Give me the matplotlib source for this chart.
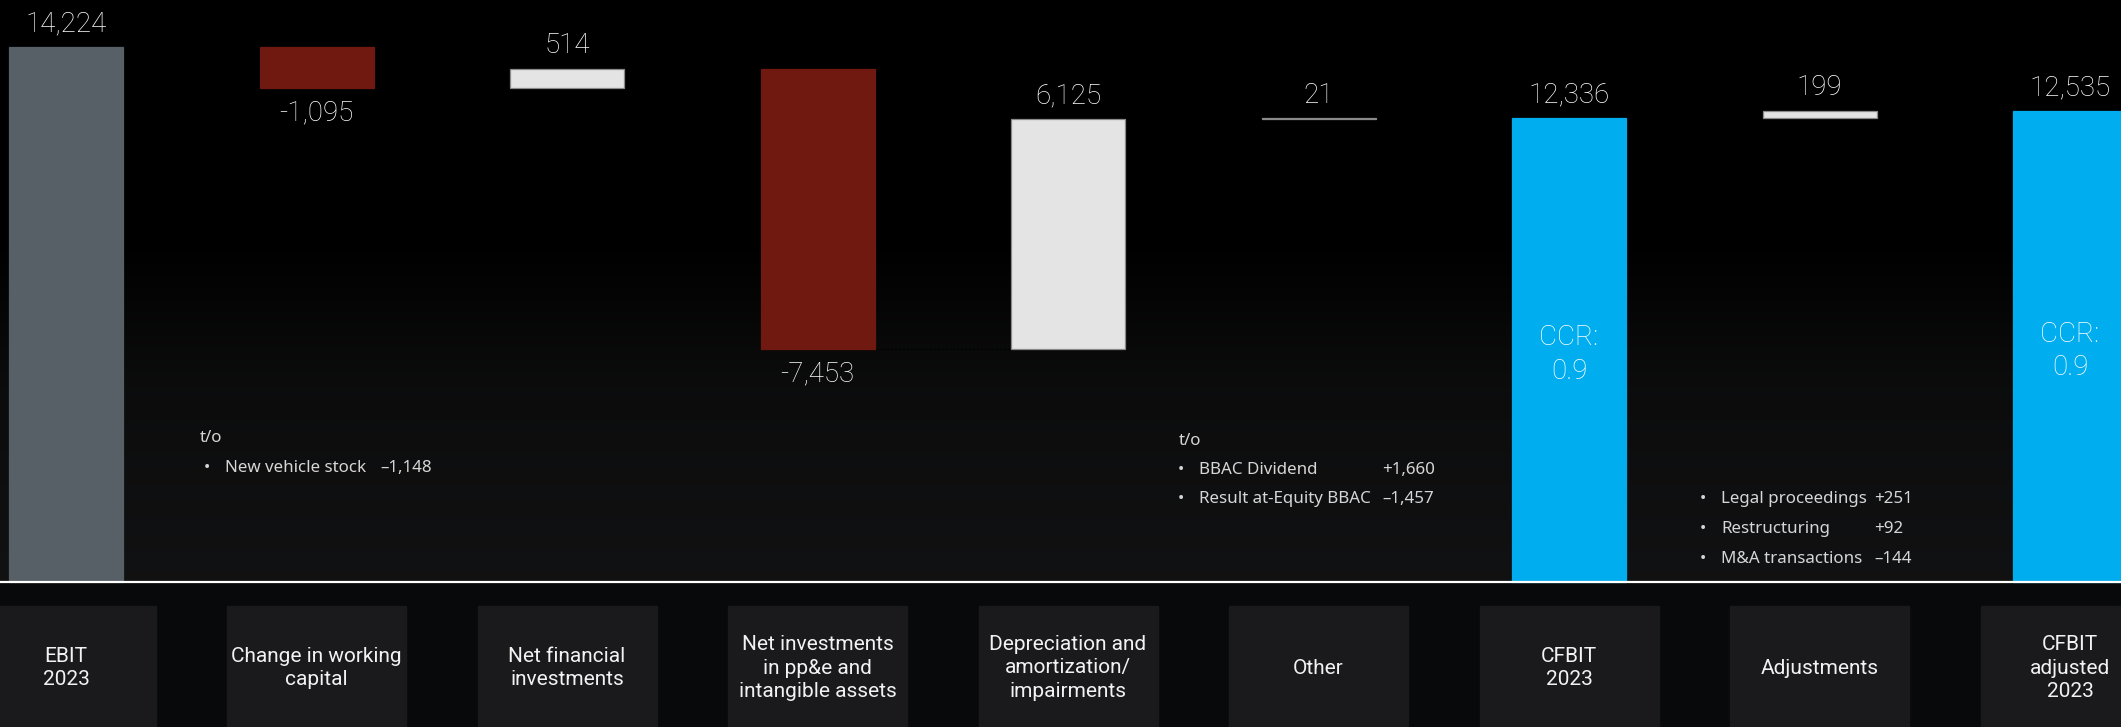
import numpy as np
import matplotlib
matplotlib.use('Agg')
import matplotlib.pyplot as plt
from matplotlib.patches import Rectangle

categories = ['EBIT\n2023', 'Change in working\ncapital', 'Net financial\ninvestments',
              'Net investments\nin pp&e and\nintangible assets',
              'Depreciation and\namortization/\nimpairments', 'Other', 'CFBIT\n2023',
              'Adjustments', 'CFBIT\nadjusted\n2023']
values = [14224, -1095, 514, -7453, 6125, 21, 12336, 199, 12535]
is_total = [True, False, False, False, False, False, True, False, True]
value_labels = ['14,224', '-1,095', '514', '-7,453', '6,125', '21', '12,336', '199', '12,535']
ccr_labels = {6: 'CCR:\n0.9', 8: 'CCR:\n0.9'}

notes_wc = ['New vehicle stock', '\u20131,148']
notes_other = [('BBAC Dividend', '+1,660'), ('Result at-Equity BBAC', '\u20131,457')]
notes_adj = [('Legal proceedings', '+251'), ('Restructuring', '+92'), ('M&A transactions', '\u2013144')]

W, H = 2121, 727
narrow = ['Roboto', 'DejaVu Sans']
plex = ['Noto Sans', 'DejaVu Sans']

fig = plt.figure(figsize=(W / 100, H / 100), dpi=100)
fig.patch.set_facecolor('black')
ax = fig.add_axes([0, 0, 1, 1])
ax.set_axis_off()

# pixel layout: bar centres every 250.5 px starting at 66, baseline at y=582 px
px_per_cat = 250.5
units_per_px = 14224 / 535
x0, x1 = -66 / px_per_cat, (W - 66) / px_per_cat
y0, y1 = -(H - 582) * units_per_px, 582 * units_per_px
ax.set_xlim(x0, x1)
ax.set_ylim(y0, y1)

# background gradient above the baseline
rows = np.arange(H)
g = np.interp(rows, [0, 240, 380, 581, 582, 727], [0.0, 0.0, 0.045, 0.068, 0.035, 0.03])
img = np.dstack([g, g * 1.03, g * 1.1]).reshape(H, 1, 3)
img = np.clip(img, 0, 1)
ax.imshow(img, extent=[x0, x1, y0, y1], aspect='auto', origin='upper', zorder=0)

x = np.arange(len(values))
bottoms = []
heights = []
colors = []
running = 0
for i, v in enumerate(values):
    if is_total[i]:
        bottoms.append(0)
        heights.append(v)
        colors.append('#575f67' if i == 0 else '#00adef')
        running = v
    else:
        bottoms.append(running if v >= 0 else running + v)
        heights.append(abs(v))
        colors.append('#e4e4e4' if v >= 0 else '#701910')
        running += v

bw = 114 / px_per_cat
edges = ['#8a8a8a' if c == '#e4e4e4' else c for c in colors]
ax.bar(x, heights, bottom=bottoms, width=bw, color=colors, edgecolor=edges,
       linewidth=0.9, zorder=3)

# connectors
running = 0
for i in range(len(values) - 1):
    running = values[i] if is_total[i] else running + values[i]
    ax.plot([x[i] + bw / 2, x[i + 1] - bw / 2], [running, running], color='black',
            lw=0.8, ls=(0, (2, 1.5)), zorder=2)

for i, v in enumerate(values):
    top = bottoms[i] + heights[i]
    if v >= 0:
        ax.annotate(value_labels[i], (x[i], top), xytext=(0, 16.5), textcoords='offset points',
                    ha='center', va='center', color='white', fontsize=20, family=narrow,
                    weight='light', zorder=5)
    else:
        ax.annotate(value_labels[i], (x[i], bottoms[i]), xytext=(0, -18), textcoords='offset points',
                    ha='center', va='center', color='white', fontsize=20, family=narrow,
                    weight='light', zorder=5)

for i, t in ccr_labels.items():
    ax.text(x[i], values[i] * 0.49, t, ha='center', va='center', color='white',
            fontsize=20, family=narrow, weight='light', linespacing=1.33, zorder=5)

# area below the baseline with category boxes
ax.add_patch(Rectangle((x0, y0), x1 - x0, -y0, color='#08090a', zorder=1))
box_w = 179 / px_per_cat
box_top = -24 * units_per_px
for i, c in enumerate(categories):
    ax.add_patch(Rectangle((x[i] - box_w / 2, y0), box_w, box_top - y0, color='#1a1a1c', zorder=2))
    ax.text(x[i], -86 * units_per_px, c, ha='center', va='center', color='#f2f2f2',
            fontsize=15, family=narrow, linespacing=1.33, zorder=3)

ax.axhline(0, color='white', lw=1.6, zorder=4)


def ftext(px, py, s, **kw):
    fig.text(px / W, 1 - py / H, s, va='center', color='#d6d6d6', fontsize=12.2, family=plex, **kw)


ftext(200, 438, 't/o')
ftext(204, 468, '\u2022')
ftext(225, 468, notes_wc[0])
ftext(380, 468, notes_wc[1])

ftext(1179, 441, 't/o')
for j, (name, val) in enumerate(notes_other):
    ftext(1178, 470 + 29 * j, '\u2022')
    ftext(1199, 470 + 29 * j, name)
    ftext(1382, 470 + 29 * j, val)

for j, (name, val) in enumerate(notes_adj):
    ftext(1700, 499 + 30 * j, '\u2022')
    ftext(1721, 499 + 30 * j, name)
    ftext(1874, 499 + 30 * j, val)

fig.savefig('out.png', dpi=100, facecolor='black')
